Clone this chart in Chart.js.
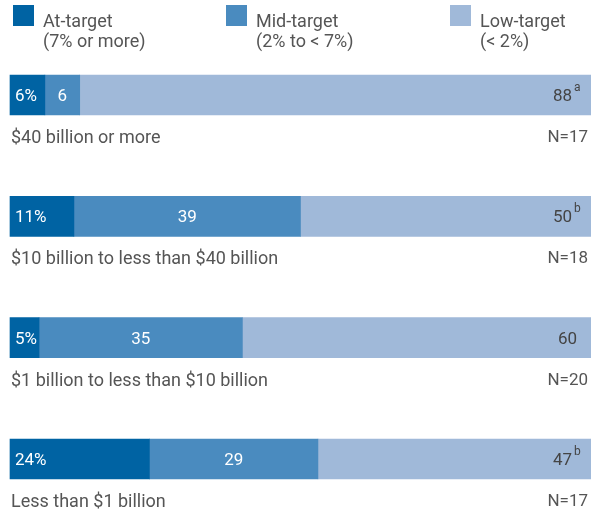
<!DOCTYPE html>
<html>
<head>
<meta charset="utf-8">
<script src="https://cdn.jsdelivr.net/npm/chart.js@4/dist/chart.umd.min.js"></script>
<style>
html, body { margin: 0; padding: 0; background: #fff; }
#wrap { width: 591px; height: 510px; position: relative; }
</style>
</head>
<body>
<div id="wrap"><canvas id="targetChart"></canvas></div>
<script>
// share of companies per target band, by company size
var categories = ['$40 billion or more', '$10 billion to less than $40 billion', '$1 billion to less than $10 billion', 'Less than $1 billion'];
var sampleSizes = ['N=17', 'N=18', 'N=20', 'N=17'];
var atTarget = [6, 11, 5, 24];
var midTarget = [6, 39, 35, 29];
var lowTarget = [88, 50, 60, 47];
var footnotes = ['a', 'b', '', 'b'];
var seriesNames = ['At-target', 'Mid-target', 'Low-target'];
var seriesRanges = ['(7% or more)', '(2% to < 7%)', '(< 2%)'];

var colors = ['#0063a3', '#4a8bbf', '#a0b9d9'];
var textColor = '#555555';
var fontFamily = 'Roboto, "Noto Sans", sans-serif';
var legendX = [13, 226, 450];

function font(size){ return '400 ' + size + 'px ' + fontFamily; }

// legend across the top: square + two-line caption
var topLegend = {
    id: 'topLegend',
    afterDraw: function(chart){
        var ctx = chart.ctx;
        ctx.save();
        seriesNames.forEach(function(name, i){
            var x = legendX[i];
            ctx.fillStyle = colors[i];
            ctx.fillRect(x, 5, 21, 21);
            ctx.fillStyle = textColor;
            ctx.font = font(18);
            ctx.textAlign = 'left';
            ctx.textBaseline = 'alphabetic';
            ctx.fillText(name, x + 30, 27);
            ctx.fillText(seriesRanges[i], x + 30, 47);
        });
        ctx.restore();
    }
};

// values inside the bars, category name and N under each bar
var barText = {
    id: 'barText',
    afterDatasetsDraw: function(chart){
        var ctx = chart.ctx;
        var area = chart.chartArea;
        ctx.save();
        ctx.textBaseline = 'alphabetic';
        chart.data.datasets.forEach(function(ds, di){
            chart.getDatasetMeta(di).data.forEach(function(bar, i){
                var v = ds.data[i];
                var left = Math.min(bar.x, bar.base), right = Math.max(bar.x, bar.base);
                var y = bar.y + 6;
                ctx.font = font(17);
                if (di === 0) {
                    ctx.fillStyle = '#fff';
                    ctx.textAlign = 'left';
                    ctx.fillText(v + '%', left + 5, y);
                } else if (di === 1) {
                    ctx.fillStyle = '#fff';
                    ctx.textAlign = 'center';
                    ctx.fillText(String(v), (left + right) / 2, y);
                } else {
                    ctx.fillStyle = '#444444';
                    ctx.textAlign = 'right';
                    var note = footnotes[i];
                    var xr = note ? area.right - 19 : area.right - 14;
                    ctx.fillText(String(v), xr, y);
                    if (note) {
                        ctx.font = font(12);
                        ctx.textAlign = 'left';
                        ctx.fillText(note, xr + 2, y - 10);
                    }
                }
            });
        });
        chart.getDatasetMeta(0).data.forEach(function(bar, i){
            var yb = bar.y + bar.height / 2 + 28;
            ctx.fillStyle = textColor;
            ctx.textAlign = 'left';
            ctx.font = font(18);
            ctx.fillText(categories[i], area.left + 1, yb);
            ctx.textAlign = 'right';
            ctx.font = font(17);
            ctx.fillText(sampleSizes[i], area.right - 3, yb - 1);
        });
        ctx.restore();
    }
};

var seriesData = [atTarget, midTarget, lowTarget];

new Chart(document.getElementById('targetChart'), {
    type: 'bar',
    data: {
        labels: categories,
        datasets: seriesData.map(function(d, i){
            return { label: seriesNames[i], data: d, backgroundColor: colors[i], borderWidth: 0, barThickness: 40, clip: false };
        })
    },
    options: {
        indexAxis: 'y',
        responsive: true,
        maintainAspectRatio: false,
        animation: false,
        events: [],
        layout: { padding: { top: 95, bottom: 51, left: 10, right: 0 } },
        scales: {
            x: { type: 'linear', min: 0, max: 100, stacked: true, display: false },
            y: { type: 'category', stacked: true, display: false, offset: false }
        },
        plugins: { legend: { display: false }, tooltip: { enabled: false } }
    },
    plugins: [topLegend, barText]
});
</script>
</body>
</html>
